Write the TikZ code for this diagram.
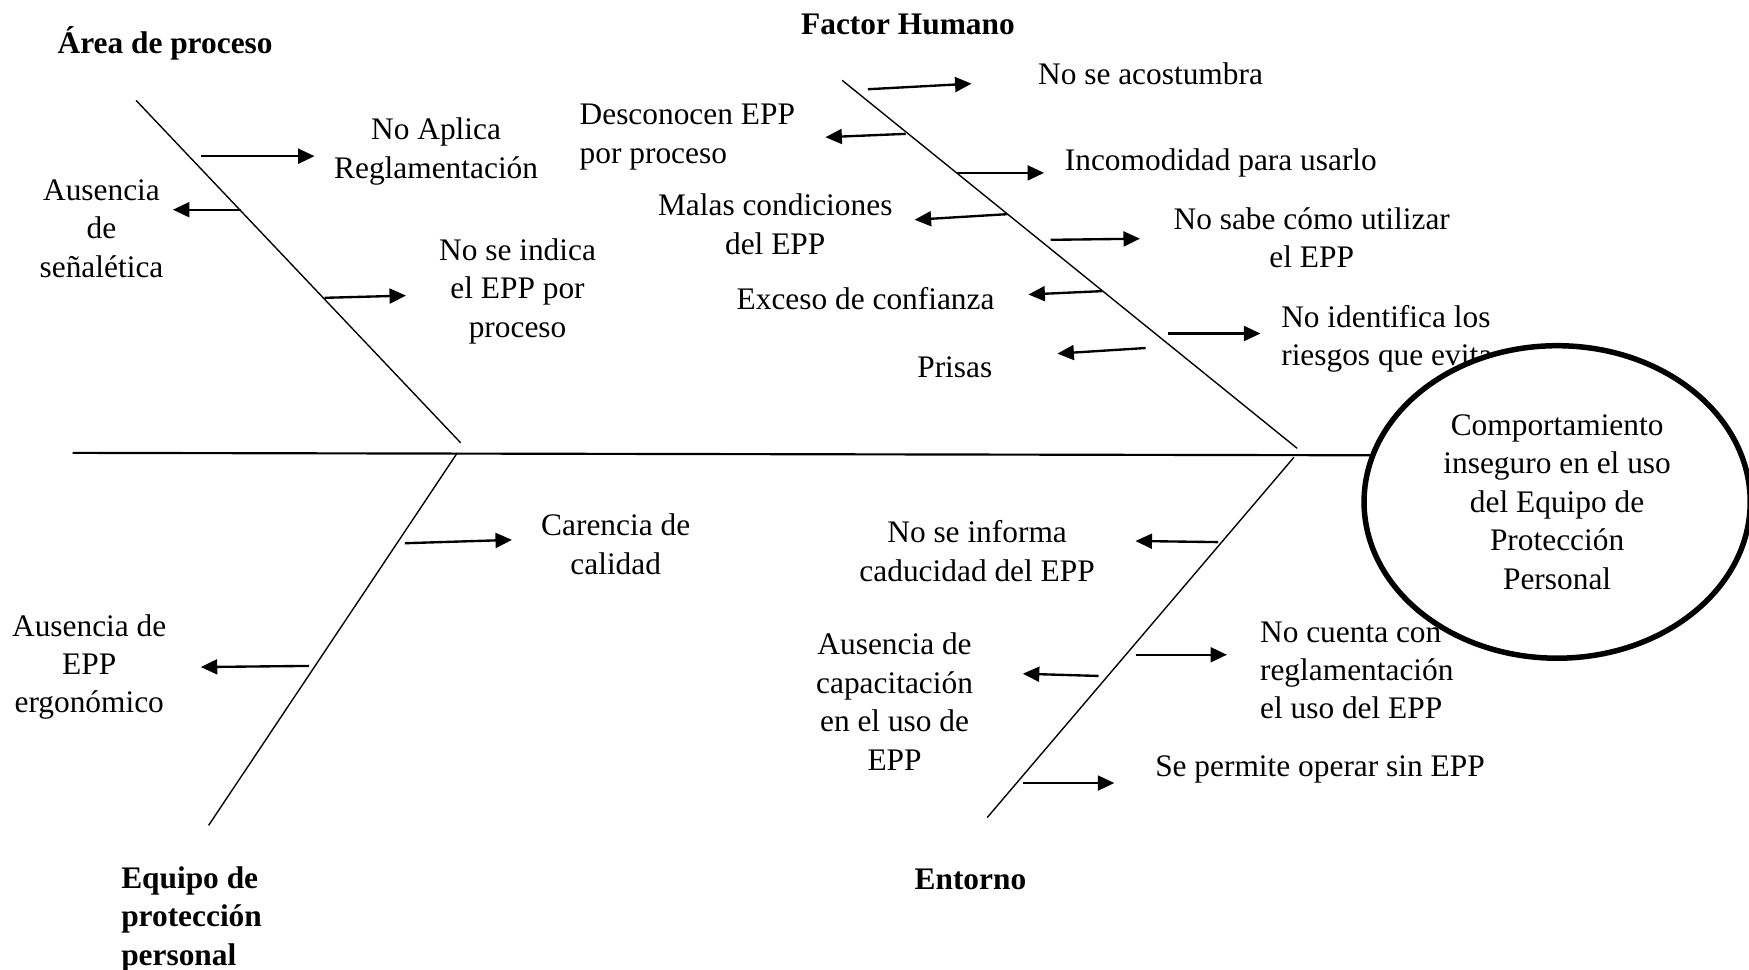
\documentclass[tikz,border=0pt]{standalone}
\usepackage{fontspec}
\setmainfont{Liberation Serif}
\usetikzlibrary{arrows.meta}
\usetikzlibrary{shapes.geometric}

\begin{document}
\begin{tikzpicture}[x=0.01cm,y=-0.01cm]
  \tikzset{txt/.style = {inner sep=0pt,align=center,font=\fontsize{8}{9.8}\selectfont}}
  \tikzset{head/.style = {txt,font=\fontsize{8}{9.8}\selectfont\bfseries}}
  \tikzset{bone/.style = {line width=0.35pt}}
  \tikzset{spine/.style = {line width=0.55pt}}
  \tikzset{arr/.style = {line width=0.6pt,-{Triangle[length=4.2pt,width=3.8pt]}}}
  \tikzset{effect/.style = {shape=ellipse,draw,line width=1.4pt,fill=white,minimum width=3.46cm,minimum height=2.8cm,inner sep=0pt,align=center,font=\fontsize{8}{9.8}\selectfont}}

  \useasboundingbox (0,0) rectangle (1568,869);
  \clip (0,0) rectangle (1568,869);

  % categories
  \node[head] (area) at (148,39) {Área de proceso};
  \node[head] (hum) at (814,22) {Factor Humano};
  \node[head,anchor=west,align=left] (equi) at (108,824) {Equipo de\\protección\\personal};
  \node[head] (ento) at (870,788) {Entorno};

  % causes
  \node[txt] (apl) at (391,136) {No Aplica\\Reglamentación};
  \node[txt] (sen) at (91,205) {Ausencia\\de\\señalética};
  \node[txt] (ind) at (464,261) {No se indica\\el EPP por\\proceso};
  \node[txt,anchor=west] (acos) at (930,66) {No se acostumbra};
  \node[txt,anchor=west,align=left] (desc) at (519,123) {Desconocen EPP\\por proceso};
  \node[txt,anchor=west] (inco) at (954,146) {Incomodidad para usarlo};
  \node[txt] (mala) at (695,201) {Malas condiciones\\del EPP};
  \node[txt] (sabe) at (1176,213) {No sabe cómo utilizar\\el EPP};
  \node[txt] (exce) at (776,268) {Exceso de confianza};
  \node[txt,anchor=west,align=left] (iden) at (1148,304) {No identifica los\\riesgos que evita};
  \node[txt] (pris) at (856,329) {Prisas};
  \node[txt] (cali) at (552,488) {Carencia de\\calidad};
  \node[txt] (ergo) at (80,598) {Ausencia de\\EPP\\ergonómico};
  \node[txt] (cadu) at (876,494) {No se informa\\caducidad del EPP};
  \node[txt,anchor=west,align=left] (regl) at (1129,601) {No cuenta con\\reglamentación\\el uso del EPP};
  \node[txt] (capa) at (802,629) {Ausencia de\\capacitación\\en el uso de\\EPP};
  \node[txt,anchor=west] (perm) at (1035,690) {Se permite operar sin EPP};

  % effect
  \node[effect] (comp) at (1396,450) {Comportamiento\\inseguro en el uso\\del Equipo de\\Protección\\Personal};

  % spine and bones
  \coordinate (spL) at (65,406);
  \coordinate (areaT) at (122,90);   \coordinate (areaB) at (413,397);
  \coordinate (humT) at (755,72);    \coordinate (humB) at (1163,402);
  \coordinate (eqT) at (410,406);    \coordinate (eqB) at (187,740);
  \coordinate (entT) at (1160,410);  \coordinate (entB) at (885,733);

  \draw[spine] (spL) -- (comp.166);
  \foreach \from/\to in {areaT/areaB, humT/humB, eqT/eqB, entT/entB}
    \draw[bone] (\from) -- (\to);

  % small arrows
  \foreach \n/\sx/\sy/\tx/\ty in {a1/180/140/282/140, a2/216/188/155/188, a3/291/267/364/265,
      h1/778/80/871/75, h2/812/120/740/123, h3/858/155/936/155, h4/903/192/820/197,
      h5/942/215/1022/214, h6/988/261/922/264, h7/1047/299/1130/299, h8/1027/312/948/317,
      e1/363/487/459/484, e2/277/597/180/598,
      n1/1092/486/1018/485, n2/1018/587/1100/587, n3/985/606/917/604, n4/917/702/999/702}
  {
    \coordinate (s\n) at (\sx,\sy);
    \coordinate (t\n) at (\tx,\ty);
    \draw[arr] (s\n) -- (t\n);
  }

\end{tikzpicture}
\end{document}
